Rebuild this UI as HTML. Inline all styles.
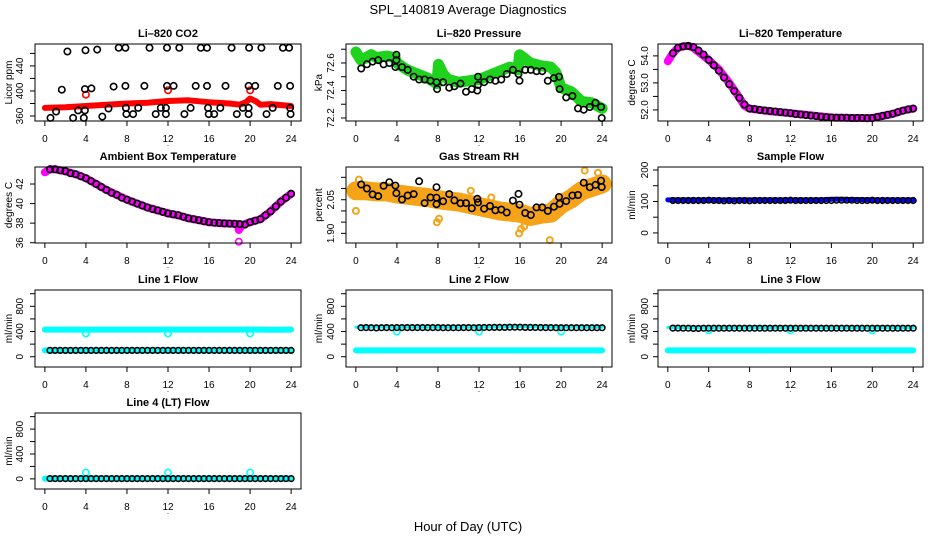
<!DOCTYPE html>
<html><head><meta charset="utf-8"><style>
html,body{margin:0;padding:0;background:#fff;}
svg{display:block;font-family:"Liberation Sans",Arial,sans-serif;}
</style></head><body>
<svg id="chart" width="936" height="540" viewBox="0 0 936 540">
<text x="468" y="14" text-anchor="middle" font-size="13">SPL_140819  Average Diagnostics</text>
<text x="468" y="531" text-anchor="middle" font-size="13">Hour of Day (UTC)</text>
</svg>
<script>
// ---------- data ----------
const xTicks=[0,4,8,12,16,20,24];
const hrs48=[0.5,1,1.5,2,2.5,3,3.5,4,4.5,5,5.5,6,6.5,7,7.5,8,8.5,9,9.5,10,10.5,11,11.5,12,12.5,13,13.5,14,14.5,15,15.5,16,16.5,17,17.5,18,18.5,19,19.5,20,20.5,21,21.5,22,22.5,23,23.5,24];
const hrs25=[0,1,2,3,4,5,6,7,8,9,10,11,12,13,14,15,16,17,18,19,20,21,22,23,24];

// CO2
const co2BandX=[0,2,4,6,8,10,12,14,16,18,19,19.6,20,20.6,21,22,24];
const co2BandY=[373,374,376,378,380,381,384,385,382,380,378,382,388,383,378,379,376];
const co2RedX=[4,12,20];
const co2RedY=[394,401,401];
const co2X=[0.55,1.1,1.65,2.2,2.75,3.24,3.9,3.9,3.96,3.8,4.54,5.1,5.6,6.2,6.7,7.2,7.85,7.85,7.9,7.95,8.6,9.1,9.7,10.2,10.8,11.3,11.8,11.8,11.9,11.9,12.55,13.1,13.6,14.2,14.7,15.2,15.8,15.8,15.9,15.97,16.5,17.1,17.6,18.2,18.7,19.3,19.85,19.85,19.9,19.85,20.5,21.1,21.6,22.2,22.7,23.2,23.8,23.9,23.9,23.95];
const co2Y=[357,367,402,463,357,369,369,403,465,357,404,466,359,372,407,469,469,408,373,363,363,373,408,469,363,373,373,363,469,408,408,469,363,373,408,469,469,408,373,363,363,373,408,469,363,373,373,408,469,363,408,469,363,373,408,469,469,408,373,363];

// Pressure
const presBandX=[0,0.5,1,1.5,2,3,3.8,4,5,6,7,7.9,8.05,8.5,9,10,11,12,13,14,15,15.8,15.95,16.5,17,18,19,19.5,20,21,22,23,24];
const presBandY=[72.68,72.62,72.64,72.66,72.64,72.65,72.64,72.6,72.55,72.52,72.49,72.45,72.59,72.52,72.48,72.46,72.47,72.48,72.51,72.54,72.57,72.55,72.66,72.63,72.6,72.58,72.57,72.53,72.42,72.39,72.32,72.31,72.27];
const presX=[0.52,1.08,1.63,2.18,2.7,3.26,3.85,3.95,3.95,4.5,5.05,5.64,6.16,6.7,7.27,7.86,7.92,8.5,9.1,9.6,10.2,10.73,11.3,11.83,11.9,11.9,12.5,13.07,13.6,14.17,14.7,15.3,15.85,15.95,16.5,17.05,17.6,18.16,18.7,19.3,19.8,19.85,20.5,21.1,21.65,22.2,22.8,23.35,23.9,23.96];
const presY=[72.56,72.59,72.61,72.62,72.59,72.6,72.57,72.66,72.62,72.57,72.55,72.5,72.48,72.48,72.47,72.46,72.41,72.46,72.42,72.43,72.45,72.39,72.41,72.4,72.5,72.44,72.46,72.48,72.47,72.48,72.52,72.55,72.52,72.47,72.55,72.55,72.54,72.54,72.47,72.49,72.5,72.41,72.35,72.36,72.27,72.26,72.28,72.31,72.28,72.2];

// Li-820 temperature
const tempBandX=[0,0.5,1,1.5,2,2.5,3,4,5,6,7,7.5,8,10,12,14,16,18,20,21,22,23,24];
const tempBandY=[53.8,54.1,54.3,54.35,54.37,54.3,54.15,53.85,53.5,53.0,52.45,52.15,52.05,51.95,51.88,51.8,51.72,51.7,51.7,51.78,51.85,51.98,52.05];
const tempBlack=[54.1,54.3,54.35,54.37,54.33,54.2,54.05,53.85,53.65,53.45,53.2,52.95,52.7,52.45,52.2,52.05,52.03,52.0,51.98,51.96,51.94,51.92,51.9,51.88,51.85,51.83,51.81,51.79,51.77,51.75,51.73,51.72,51.71,51.71,51.71,51.7,51.7,51.7,51.69,51.7,51.74,51.78,51.82,51.86,51.92,51.97,52.02,52.05];

// Ambient box temperature
const ambBandX=[0,0.5,1,2,3,4,5,6,7,8,9,10,11,12,13,14,15,16,17,18,18.8,18.9,19.2,20,21,22,23,24];
const ambBandY=[43.2,43.5,43.5,43.3,43.0,42.6,42.0,41.4,40.9,40.4,40.0,39.6,39.3,39.0,38.8,38.5,38.3,38.1,38.0,37.95,37.9,37.3,37.8,38.1,38.4,39.2,40.2,41.0];
const ambOutX=[18.9];
const ambOutY=[36.1];
const ambBlack=[43.5,43.5,43.4,43.3,43.1,43.0,42.8,42.6,42.3,42.0,41.7,41.4,41.1,40.9,40.6,40.4,40.2,40.0,39.8,39.6,39.45,39.3,39.15,39.0,38.9,38.8,38.65,38.5,38.4,38.3,38.2,38.1,38.05,38.0,37.97,37.95,37.93,37.9,37.85,38.1,38.25,38.4,38.8,39.2,39.7,40.2,40.6,41.0];

// Gas stream RH
const rhBandX=[0,1,2,3,4,5,6,7,8,9,10,11,12,13,14,15,16,17,18,19,20,21,22,23,24];
const rhBandY=[2.09,2.09,2.085,2.085,2.076,2.07,2.065,2.06,2.05,2.045,2.04,2.03,2.02,2.01,2.0,1.995,1.99,1.975,1.985,1.99,2.03,2.055,2.09,2.105,2.12];
const rhOutX=[0,0.3,7.9,8.1,15.9,16.1,16.4,18.9,22.3,23.6,11.2,13.2];
const rhOutY=[2.0,2.14,1.95,1.965,1.9,1.92,1.93,1.87,2.18,2.17,2.09,2.06];
const rhX=[0.52,1.08,1.63,2.18,2.7,3.26,3.85,3.95,4.5,5.05,5.64,6.16,6.7,7.27,7.86,7.86,7.86,8.5,9.1,9.6,10.2,10.73,11.3,11.83,11.9,12.5,13.07,13.6,14.17,14.7,15.3,15.85,15.95,16.5,17.05,17.6,18.16,18.7,19.3,19.8,19.85,20.5,21.1,21.65,22.2,22.8,23.35,23.9,23.96];
const rhY=[2.118,2.1,2.074,2.066,2.112,2.128,2.113,2.079,2.051,2.069,2.075,2.132,2.035,2.06,2.059,2.106,2.03,2.043,2.075,2.047,2.034,2.035,2.012,2.054,2.038,2.01,2.022,2.003,2.006,1.993,2.046,2.076,2.028,1.991,1.982,2.016,2.016,2.0,2.019,2.062,2.032,2.044,2.069,2.071,2.126,2.106,2.116,2.135,2.107];

// Flows
const sampleBand=[105,105,105,105,105,105,105,105,105,105,105,105,105,105,105,105,107,107,106,106,105,105,105,105,105];
const sampleBlack=[103,103,103,103,103,103,103,104,103,103,102,103,102,103,103,102,103,103,103,103,103,103,103,104,103,103,103,103,103,103,103,103,104,104,104,104,103,103,103,104,103,103,103,103,103,103,103,103];
const line1CyanHigh=[430,430,430,430,428,430,430,430,430,430,430,430,430,430,430,430,430,430,430,430,430,430,428,428,430];
const line1CyanLow=[100,100,100,100,100,100,100,100,100,100,100,100,100,100,100,100,100,100,100,100,100,100,100,100,100];
const line1Black=[100,100,100,100,100,100,100,100,100,100,100,100,100,100,100,100,100,100,100,100,100,100,100,100,100,100,100,100,100,100,100,100,100,100,100,100,100,100,100,100,100,100,100,100,100,100,100,100];
const line1DipX=[4,12,20];
const line1DipY=[370,370,370];
const line2CyanHigh=[470,468,470,470,465,470,468,468,468,468,468,468,468,470,472,475,478,476,472,470,470,468,468,468,468];
const line2CyanLow=[100,100,100,100,100,100,100,100,100,100,100,100,100,100,100,100,100,100,100,100,100,100,100,100,100];
const line2Black=[460,462,460,458,460,462,460,462,462,462,462,462,462,462,462,462,460,460,460,460,462,462,460,462,464,464,466,466,466,468,468,468,466,466,464,464,462,462,460,460,460,460,460,460,460,460,460,460];
const line2DipX=[4,12,20];
const line2DipY=[400,400,400];
const line3CyanHigh=[465,460,460,458,455,458,458,458,458,458,458,458,458,458,458,458,458,458,458,458,458,458,458,458,458];
const line3CyanLow=[100,100,100,100,100,100,100,100,100,100,100,100,100,100,100,100,100,100,100,100,100,100,100,100,100];
const line3Black=[455,455,452,452,450,450,452,452,452,452,452,452,452,452,452,452,452,452,452,452,452,452,452,452,452,452,452,452,452,452,452,452,452,452,452,452,452,452,452,452,452,452,452,452,452,452,452,452];
const line3DipX=[4,12,20];
const line3DipY=[420,420,420];
const line4Cyan=[5,5,5,5,5,5,5,5,5,5,5,5,5,5,5,5,5,5,5,5,5,5,5,5,5];
const line4Black=[5,5,5,5,5,5,5,5,5,5,5,5,5,5,5,5,5,5,5,5,5,5,5,5,5,5,5,5,5,5,5,5,5,5,5,5,5,5,5,5,5,5,5,5,5,5,5,5];
const line4DipX=[4,12,20];
const line4DipY=[100,100,100];

// ---------- drawing ----------
const NS='http://www.w3.org/2000/svg';
const svg=document.getElementById('chart');
function mk(tag,attrs,parent){const e=document.createElementNS(NS,tag);for(const k in attrs)e.setAttribute(k,attrs[k]);parent.appendChild(e);return e;}
const cols=[{l:35,r:301,lab:16,tit:27},{l:346,r:612,lab:16,tit:28},{l:658,r:923,lab:14,tit:27}];
const rows=[{t:44,b:121},{t:167,b:243},{t:290,b:367},{t:413,b:489}];
const XMIN=-0.96,XMAX=24.96;

function panel(name,title,ytitle,c,r,ymin,ymax,yticks,ylabels){
  const col=cols[c],row=rows[r];
  const g=mk('g',{},svg);
  
  
  const sx=v=>col.l+(v-XMIN)/(XMAX-XMIN)*(col.r-col.l);
  const sy=v=>row.b-(v-ymin)/(ymax-ymin)*(row.b-row.t);
  const plot=mk('g',{},g);
  
  
  const t=mk('text',{x:(col.l+col.r)/2,y:row.t-7,'text-anchor':'middle','font-size':11,'font-weight':'bold'},g);
  t.textContent=title;
  
  
  const xa=mk('g',{},g);
  
  
  mk('line',{x1:sx(xTicks[0]),x2:sx(xTicks[xTicks.length-1]),y1:row.b,y2:row.b,stroke:'#000'},xa);
  xTicks.forEach(v=>{
    mk('line',{x1:sx(v),x2:sx(v),y1:row.b,y2:row.b+5,stroke:'#000'},xa);
    const l=mk('text',{x:sx(v),y:row.b+21,'text-anchor':'middle','font-size':10},xa);
    l.textContent=String(v);
    
    
  });
  const dot=mk('text',{x:(col.l+col.r)/2,y:row.b+25,'text-anchor':'middle','font-size':8},xa);
  dot.textContent='.';
  
  
  const ya=mk('g',{},g);
  
  
  yticks.forEach((v,i)=>{
    mk('line',{x1:col.l-5,x2:col.l,y1:sy(v),y2:sy(v),stroke:'#000'},ya);
    if(ylabels[i]!==''){
      const lx=col.l-col.lab+4,ly=sy(v);
      const l=mk('text',{x:lx,y:ly,'text-anchor':'middle','font-size':10,transform:`rotate(-90 ${lx} ${ly})`},ya);
      l.textContent=ylabels[i];
      
      
    }
  });
  const tx=col.l-col.tit+4,ty=(row.t+row.b)/2;
  const yt=mk('text',{x:tx,y:ty,'text-anchor':'middle','font-size':10,transform:`rotate(-90 ${tx} ${ty})`},g);
  yt.textContent=ytitle;
  
  
  const box=mk('rect',{x:col.l,y:row.t,width:col.r-col.l,height:row.b-row.t,fill:'none',stroke:'#000'},g);
  
  
  return {sx,sy,g:plot};
}
function band(p,xs,ys,color,w,name){
  const pts=xs.map((x,i)=>p.sx(x).toFixed(1)+','+p.sy(ys[i]).toFixed(1)).join(' ');
  const e=mk('polyline',{points:pts,fill:'none',stroke:color,'stroke-width':w,'stroke-linejoin':'round','stroke-linecap':'round'},p.g);
  
  
}
function pts(p,xs,ys,color,name,r,sw){
  const g=mk('g',{},p.g);
  
  
  xs.forEach((x,i)=>{
    const c=mk('circle',{cx:p.sx(x).toFixed(1),cy:p.sy(ys[i]).toFixed(1),r:r||3.2,fill:'none',stroke:color,'stroke-width':sw||1.6},g);
    
    
  });
}

// Panel 1
let p=panel('co2-panel','Li\u2013820 CO2','Licor ppm',0,0,352,475,[360,380,400,420,440,460],['360','','400','','440','']);
band(p,co2BandX,co2BandY,'#ff0000',6,'co2-red-series');
pts(p,co2RedX,co2RedY,'#ff0000','co2-red-points');
pts(p,co2X,co2Y,'#000','co2-black-points');
// Panel 2
p=panel('pressure-panel','Li\u2013820 Pressure','kPa',1,0,72.178,72.738,[72.2,72.3,72.4,72.5,72.6,72.7],['72.2','','72.4','','72.6','']);
band(p,presBandX,presBandY,'#1ed21e',11,'pressure-green-series');
pts(p,presX,presY,'#000','pressure-black-points');
// Panel 3
p=panel('li820-temp-panel','Li\u2013820 Temperature','degrees C',2,0,51.59,54.44,[52,52.5,53,53.5,54],['52.0','','53.0','','54.0']);
band(p,tempBandX,tempBandY,'#ff00ff',8,'li820-temp-magenta-series');
pts(p,hrs48,tempBlack,'#000','li820-temp-black-points');
// Panel 4
p=panel('ambient-temp-panel','Ambient Box Temperature','degrees C',0,1,35.97,43.74,[36,38,40,42],['36','38','40','42']);
band(p,ambBandX,ambBandY,'#ff00ff',8,'ambient-temp-magenta-series');
pts(p,ambOutX,ambOutY,'#ff00ff','ambient-temp-outlier');
pts(p,hrs48,ambBlack,'#000','ambient-temp-black-points');
// Panel 5
p=panel('rh-panel','Gas Stream RH','percent',1,1,1.857,2.196,[1.9,1.95,2.0,2.05,2.1,2.15],['1.90','','','2.05','','']);
band(p,rhBandX,rhBandY,'#f5a41a',19,'rh-orange-series');
pts(p,rhOutX,rhOutY,'#f5a41a','rh-outlier-points',3,2);
pts(p,rhX,rhY,'#000','rh-black-points');
// Panel 6
p=panel('sample-flow-panel','Sample Flow','ml/min',2,1,-32,209.5,[0,50,100,150,200],['0','','100','','200']);
band(p,hrs25,sampleBand,'#0000ff',5,'sample-flow-blue-series');
pts(p,hrs48,sampleBlack,'#000','sample-flow-black-points',2.8);
// Panels 7-10
const fT=[0,200,400,600,800,1000],fL=['0','','400','','800',''];
p=panel('line1-flow-panel','Line 1 Flow','ml/min',0,2,-163,1059,fT,fL);
band(p,hrs25,line1CyanHigh,'#00ffff',6,'line1-cyan-high-series');
band(p,hrs25,line1CyanLow,'#00ffff',6,'line1-cyan-low-series');
pts(p,line1DipX,line1DipY,'#00ffff','line1-cyan-dips');
pts(p,hrs48,line1Black,'#000','line1-black-points',2.8);
p=panel('line2-flow-panel','Line 2 Flow','ml/min',1,2,-163,1059,fT,fL);
band(p,hrs25,line2CyanHigh,'#00ffff',3,'line2-cyan-high-series');
band(p,hrs25,line2CyanLow,'#00ffff',6,'line2-cyan-low-series');
pts(p,line2DipX,line2DipY,'#00ffff','line2-cyan-dips');
pts(p,hrs48,line2Black,'#000','line2-black-points',2.8);
p=panel('line3-flow-panel','Line 3 Flow','ml/min',2,2,-163,1059,fT,fL);
band(p,hrs25,line3CyanHigh,'#00ffff',3,'line3-cyan-high-series');
band(p,hrs25,line3CyanLow,'#00ffff',6,'line3-cyan-low-series');
pts(p,line3DipX,line3DipY,'#00ffff','line3-cyan-dips');
pts(p,hrs48,line3Black,'#000','line3-black-points',2.8);
p=panel('line4-flow-panel','Line 4 (LT) Flow','ml/min',0,3,-163,1059,fT,fL);
band(p,hrs25,line4Cyan,'#00ffff',6,'line4-cyan-series');
pts(p,line4DipX,line4DipY,'#00ffff','line4-cyan-dips');
pts(p,hrs48,line4Black,'#000','line4-black-points',2.8);
</script>
</body></html>
